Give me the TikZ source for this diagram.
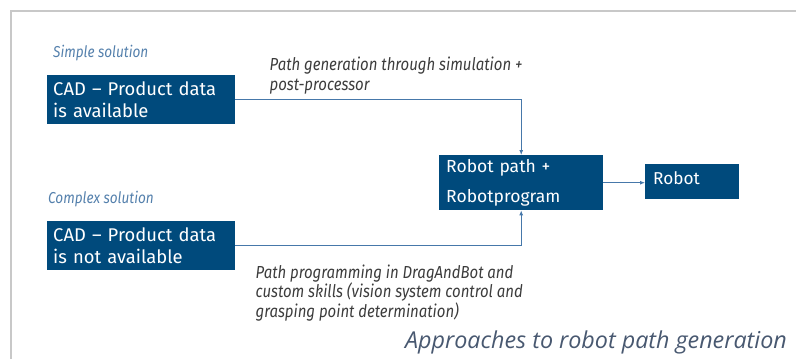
\documentclass[tikz,border=0pt]{standalone}
\usepackage{fontspec}
\setmainfont{Fira Sans}
\newfontfamily\notefont[FakeStretch=0.86]{Fira Sans}
\newfontfamily\captionfont{Open Sans}
\usetikzlibrary{arrows.meta,positioning}
\definecolor{boxblue}{RGB}{0,74,124}
\definecolor{linkblue}{RGB}{70,120,170}
\definecolor{notegray}{RGB}{60,60,60}
\definecolor{hintblue}{RGB}{84,128,172}
\definecolor{captiongray}{RGB}{72,88,112}
\definecolor{framegray}{RGB}{200,200,200}

\begin{document}
\begin{tikzpicture}[x=1pt,y=-1pt,
  databox/.style={fill=boxblue,text=white,anchor=north west,align=left,inner ysep=0pt,font=\fontsize{18.4}{22}\selectfont},
  hint/.style={text=hintblue,font=\notefont\itshape\fontsize{15.8}{18}\selectfont,inner sep=0pt,anchor=base west},
  note/.style={text=notegray,font=\notefont\itshape\fontsize{17.4}{19.5}\selectfont,inner sep=0pt,anchor=base west,align=left},
  link/.style={linkblue,line width=0.9pt,-{Latex[length=5pt,width=4pt]}}]
\useasboundingbox (0,0) rectangle (796,359);
% frame
\draw[framegray,line width=1.5pt] (796,11) -- (11,11) -- (11,359);
% input boxes
\node[databox,text width=176pt,minimum height=49pt,inner xsep=6pt] (cad1) at (47,75) {CAD -- Product data\\is available};
\node[databox,text width=176pt,minimum height=49pt,inner xsep=6pt] (cad2) at (47,221) {CAD -- Product data\\is not available};
\node[hint] (simple) at ([xshift=6pt,yshift=18pt]cad1.north west) {Simple solution};
\node[hint] (complex) at ([xshift=1pt,yshift=18pt]cad2.north west) {Complex solution};
% output boxes
\node[databox,text width=150pt,minimum height=55pt,inner xsep=7pt,font=\fontsize{17.5}{30}\selectfont] (rpath) at (439,155) {Robot path +\\Robotprogram};
\node[databox,text width=78pt,minimum height=35pt,inner xsep=8pt,text depth=8pt,font=\fontsize{17.2}{22}\selectfont] (robot) at (645,164) {Robot};
% connectors
\draw[link] (cad1.east) -| (rpath.north);
\draw[link] (cad2.east) -| (rpath.south);
\draw[link] (rpath.east) -- (rpath.east -| robot.west);
% labels (base = last line)
\node[note] (simnote) at ([xshift=34pt,yshift=-15pt]cad1.north east) {Path generation through simulation +\\post-processor};
\node[note] (prognote) at ([xshift=20pt,yshift=-47pt]cad2.south east) {Path programming in DragAndBot and\\custom skills (vision system control and\\grasping point determination)};
\node[text=captiongray,font=\captionfont\itshape\fontsize{23.3}{26}\selectfont,inner sep=0pt,anchor=base east] (caption) at (787,348) {Approaches to robot path generation};
\end{tikzpicture}
\end{document}
